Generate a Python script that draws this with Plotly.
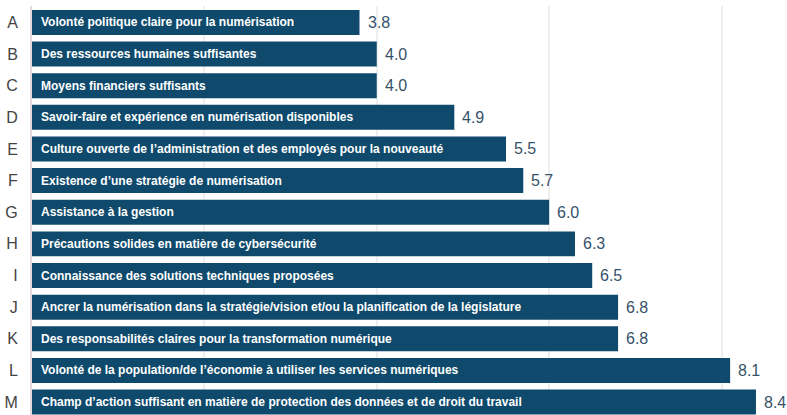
import plotly.graph_objects as go

letters = ["A","B","C","D","E","F","G","H","I","J","K","L","M"]
labels = [
    "Volonté politique claire pour la numérisation",
    "Des ressources humaines suffisantes",
    "Moyens financiers suffisants",
    "Savoir-faire et expérience en numérisation disponibles",
    "Culture ouverte de l’administration et des employés pour la nouveauté",
    "Existence d’une stratégie de numérisation",
    "Assistance à la gestion",
    "Précautions solides en matière de cybersécurité",
    "Connaissance des solutions techniques proposées",
    "Ancrer la numérisation dans la stratégie/vision et/ou la planification de la législature",
    "Des responsabilités claires pour la transformation numérique",
    "Volonté de la population/de l’économie à utiliser les services numériques",
    "Champ d’action suffisant en matière de protection des données et de droit du travail",
]
values = [3.8, 4.0, 4.0, 4.9, 5.5, 5.7, 6.0, 6.3, 6.5, 6.8, 6.8, 8.1, 8.4]

BAR = "#0f4a6c"
pos = list(range(len(letters)))

fig = go.Figure()
fig.add_trace(go.Bar(
    x=values, y=pos, orientation="h", marker=dict(color=BAR, line=dict(width=0)),
    width=0.79, hoverinfo="skip",
))

ann = []
for p, lab, v in zip(pos, labels, values):
    ann.append(dict(x=0, y=p, xref="x", yref="y", text=lab, showarrow=False,
                    xanchor="left", yanchor="middle", xshift=7,
                    font=dict(family="Liberation Sans, Arial", size=12, color="white", weight="bold")))
    ann.append(dict(x=v, y=p, xref="x", yref="y", text=f"{v:.1f}", showarrow=False,
                    xanchor="left", yanchor="middle", xshift=6,
                    font=dict(family="Liberation Sans, Arial", size=16, color="#36526a")))

fig.update_layout(
    width=787, height=415,
    margin=dict(l=32, r=0, t=6, b=0, autoexpand=False),
    paper_bgcolor="white", plot_bgcolor="white",
    showlegend=False,
    annotations=ann,
    xaxis=dict(range=[0, 8.76], tickvals=[2, 4, 6, 8], showticklabels=False,
               showgrid=True, gridcolor="#efefef", gridwidth=2, zeroline=False,
               showline=False, fixedrange=True, automargin=False),
    yaxis=dict(range=[12.41, -0.52], tickvals=pos, ticktext=letters,
               tickfont=dict(family="Liberation Sans, Arial", size=16, color="#444444"),
               showgrid=False, zeroline=False, showline=True, linecolor="#e3d9dc",
               linewidth=2, ticks="", ticklabelstandoff=9, fixedrange=True,
               automargin=False),
)

fig.write_html("out.html", config={"displayModeBar": False},
               post_script="document.body.style.margin='0';document.body.style.overflow='hidden';")
